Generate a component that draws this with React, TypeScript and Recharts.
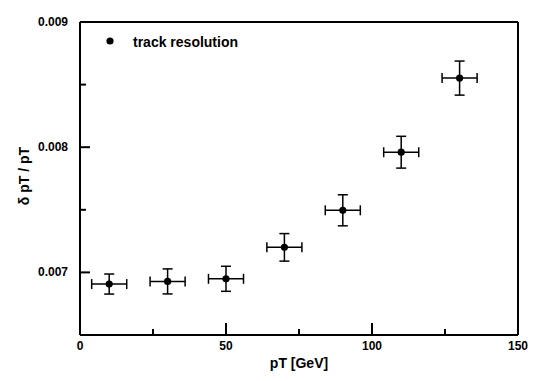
import React from 'react';
import { ScatterChart, Scatter, XAxis, YAxis, ErrorBar, Label } from 'recharts';

const ptValues = [10, 30, 50, 70, 90, 110, 130];
const resolution = [0.006907, 0.006928, 0.006949, 0.0072, 0.007496, 0.00796, 0.008552];
const resolutionErr = [0.00008, 0.0001, 0.0001, 0.00011, 0.000124, 0.000127, 0.000136];
const ptErr = [6, 6, 6, 6, 6, 6, 6];

const xTicks = [0, 25, 50, 75, 100, 125, 150];
const yTicks = [0.0065, 0.007, 0.0075, 0.008, 0.0085, 0.009];

const W = 541;
const H = 381;
const PLOT = { left: 80, top: 22, right: 518, bottom: 335 };
const FONT = '"Liberation Sans", Arial, sans-serif';

const data = ptValues.map((x, i) => ({ x, y: resolution[i], ex: ptErr[i], ey: resolutionErr[i] }));

const isMajorX = (v: number) => v % 50 === 0;
const isMajorY = (v: number) => Math.abs(v * 1000 - Math.round(v * 1000)) < 1e-6;

const BottomTick = (props: any) => {
  const { x, payload } = props;
  const major = isMajorX(payload.value);
  return (
    <g>
      <line x1={x} x2={x} y1={PLOT.bottom} y2={PLOT.bottom - (major ? 12 : 6)} stroke="#000" strokeWidth={2} />
      {major && (
        <text x={x} y={350} textAnchor="middle" fontFamily={FONT} fontWeight="bold" fontSize={12} fill="#000">
          {payload.value}
        </text>
      )}
    </g>
  );
};

const TopTick = (props: any) => {
  const { x, payload } = props;
  const major = isMajorX(payload.value);
  return <line x1={x} x2={x} y1={PLOT.top} y2={PLOT.top + (major ? 11 : 6)} stroke="#000" strokeWidth={2} />;
};

const LeftTick = (props: any) => {
  const { y, payload } = props;
  const major = isMajorY(payload.value);
  return (
    <g>
      <line x1={PLOT.left} x2={PLOT.left + (major ? 10 : 6)} y1={y} y2={y} stroke="#000" strokeWidth={2} />
      {major && (
        <text x={68} y={y} dy={4} textAnchor="end" fontFamily={FONT} fontWeight="bold" fontSize={12} fill="#000">
          {payload.value.toFixed(3)}
        </text>
      )}
    </g>
  );
};

const RightTick = (props: any) => {
  const { y, payload } = props;
  const major = isMajorY(payload.value);
  return <line x1={PLOT.right} x2={PLOT.right - (major ? 12 : 6)} y1={y} y2={y} stroke="#000" strokeWidth={2} />;
};

const Dot = (props: any) => <circle cx={props.cx} cy={props.cy} r={3.6} fill="#000" />;

const axisLine = { stroke: '#000', strokeWidth: 2 };

export default function App() {
  return (
    <div style={{ position: 'absolute', left: 0, top: 0, width: W, height: H, background: '#fff' }}>
      <ScatterChart width={W} height={H} margin={{ top: 0, right: 0, bottom: 0, left: 0 }}>
        <XAxis
          xAxisId="b"
          dataKey="x"
          type="number"
          domain={[0, 150]}
          ticks={xTicks}
          interval={0}
          height={H - PLOT.bottom}
          tickLine={false}
          axisLine={axisLine}
          tick={<BottomTick />}
        >
          <Label
            content={() => (
              <text x={299} y={368} textAnchor="middle" fontFamily={FONT} fontWeight="bold" fontSize={14} fill="#000">
                pT [GeV]
              </text>
            )}
          />
        </XAxis>
        <XAxis
          xAxisId="t"
          orientation="top"
          type="number"
          domain={[0, 150]}
          ticks={xTicks}
          interval={0}
          height={PLOT.top}
          tickLine={false}
          axisLine={axisLine}
          tick={<TopTick />}
        />
        <YAxis
          yAxisId="l"
          dataKey="y"
          type="number"
          domain={[0.0065, 0.009]}
          ticks={yTicks}
          interval={0}
          width={PLOT.left}
          tickLine={false}
          axisLine={axisLine}
          tick={<LeftTick />}
        >
          <Label
            content={() => (
              <text
                x={24}
                y={176}
                transform="rotate(-90, 24, 176)"
                textAnchor="middle"
                dy={5}
                fontFamily={FONT}
                fontWeight="bold"
                fontSize={14}
                fill="#000"
              >
                δ pT / pT
              </text>
            )}
          />
        </YAxis>
        <YAxis
          yAxisId="r"
          orientation="right"
          type="number"
          domain={[0.0065, 0.009]}
          ticks={yTicks}
          interval={0}
          width={W - PLOT.right}
          tickLine={false}
          axisLine={axisLine}
          tick={<RightTick />}
        />
        <Scatter data={data} xAxisId="b" yAxisId="l" shape={<Dot />} isAnimationActive={false}>
          <ErrorBar dataKey="ex" direction="x" width={5} stroke="#000" strokeWidth={1.5} isAnimationActive={false} />
          <ErrorBar dataKey="ey" direction="y" width={5} stroke="#000" strokeWidth={1.5} isAnimationActive={false} />
        </Scatter>
      </ScatterChart>
      <svg width={W} height={H} style={{ position: 'absolute', left: 0, top: 0, pointerEvents: 'none' }}>
        <circle cx={110} cy={41} r={3.6} fill="#000" />
        <text x={133} y={46.5} fontFamily={FONT} fontWeight="bold" fontSize={14} fill="#000">
          track resolution
        </text>
      </svg>
    </div>
  );
}
